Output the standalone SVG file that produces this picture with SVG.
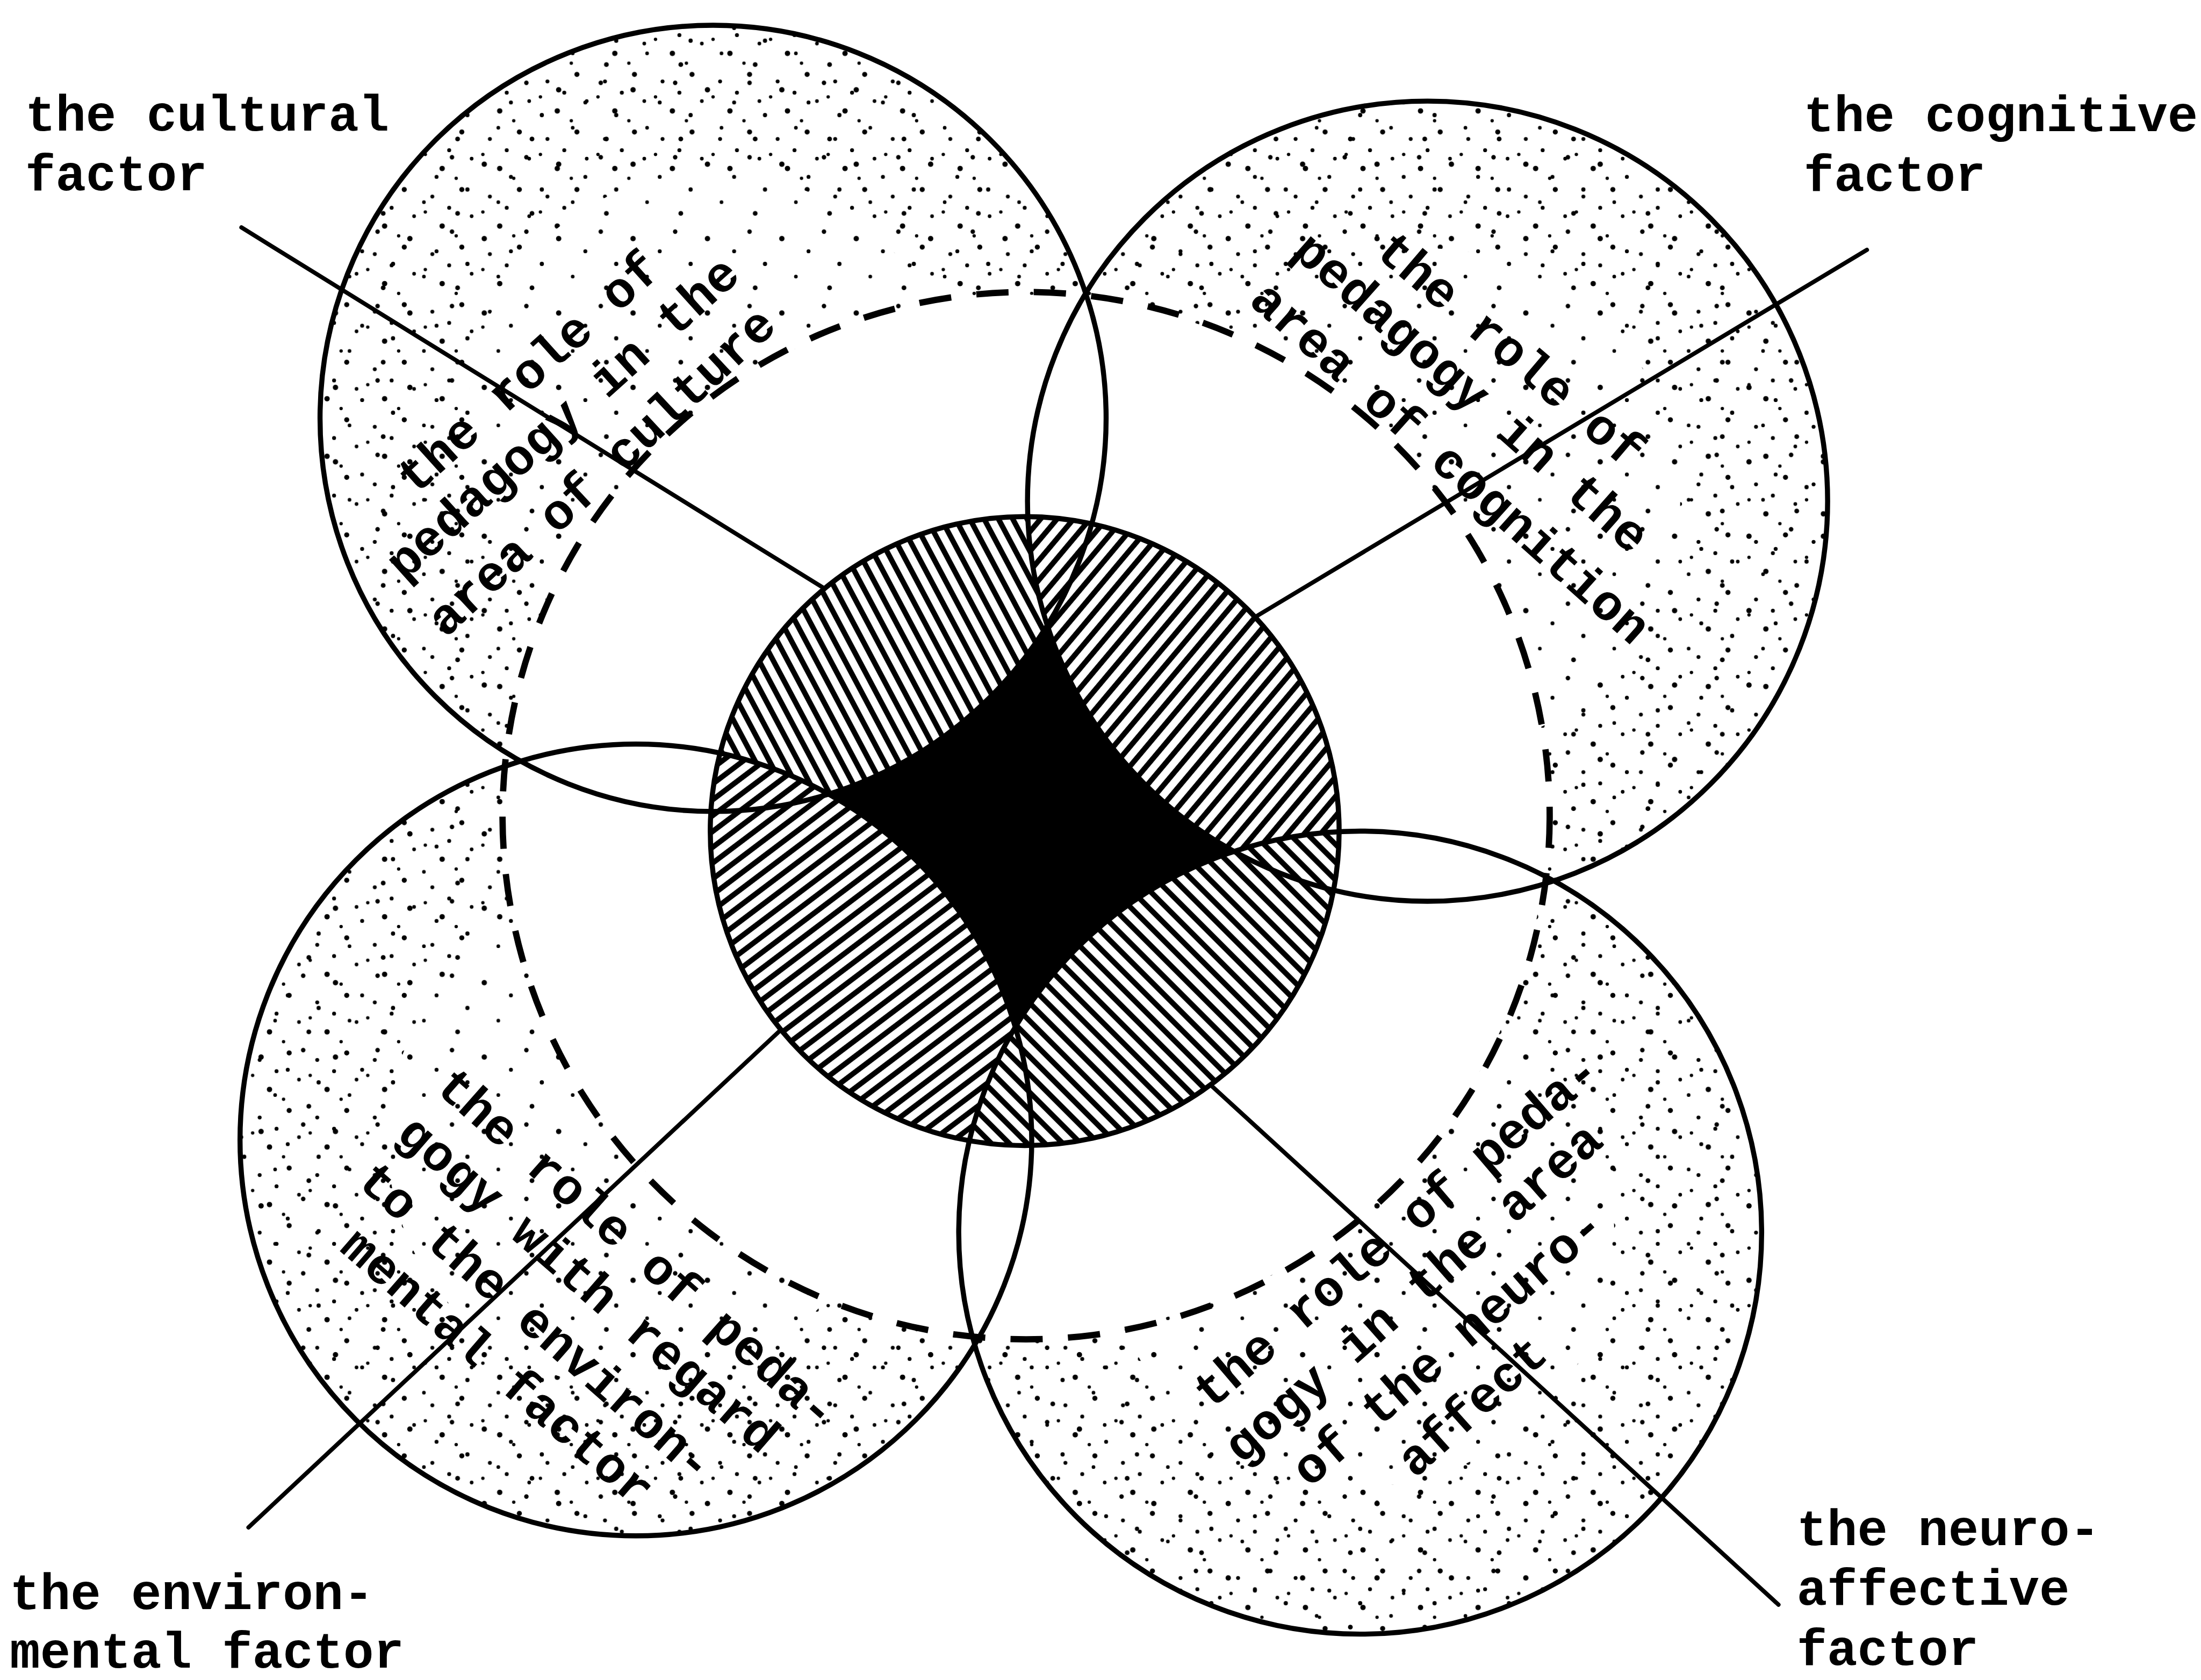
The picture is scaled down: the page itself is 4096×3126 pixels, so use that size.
<svg xmlns="http://www.w3.org/2000/svg" width="4096" height="3126" viewBox="0 0 4096 3126">
<defs>
<style>
.t{font-family:"Liberation Mono","Courier New",monospace;font-weight:bold;font-size:36px;fill:#000}
.c{fill:none;stroke:#000;stroke-width:3.6}
.ln{fill:none;stroke:#000;stroke-width:3;stroke-linecap:round}
.dot circle{fill:#000}
</style>
<pattern id="sa" class="dot" width="53" height="53" patternUnits="userSpaceOnUse">
<circle cx="4" cy="6" r="1.6"/><circle cx="27" cy="11" r="1.9"/><circle cx="46" cy="20" r="1.4"/><circle cx="15" cy="29" r="1.5"/><circle cx="37" cy="38" r="1.3"/><circle cx="8" cy="46" r="1.7"/>
</pattern>
<pattern id="sb" class="dot" x="13" y="7" width="41" height="41" patternUnits="userSpaceOnUse">
<circle cx="8" cy="10" r="1.4"/><circle cx="29" cy="5" r="1.8"/><circle cx="36" cy="24" r="1.3"/><circle cx="15" cy="31" r="1.9"/><circle cx="25" cy="38" r="1.2"/><circle cx="3" cy="21" r="1.2"/><circle cx="20" cy="18" r="1.4"/>
</pattern>
<pattern id="hTL" width="9" height="9" patternUnits="userSpaceOnUse" patternTransform="rotate(62)"><rect width="9" height="9" fill="#fff"/><rect y="2.6" width="9" height="3.8" fill="#000"/></pattern>
<pattern id="hTR" width="9" height="9" patternUnits="userSpaceOnUse" patternTransform="rotate(-50)"><rect width="9" height="9" fill="#fff"/><rect y="2.6" width="9" height="3.8" fill="#000"/></pattern>
<pattern id="hBL" width="9" height="9" patternUnits="userSpaceOnUse" patternTransform="rotate(-37)"><rect width="9" height="9" fill="#fff"/><rect y="2.6" width="9" height="3.8" fill="#000"/></pattern>
<pattern id="hBR" width="9" height="9" patternUnits="userSpaceOnUse" patternTransform="rotate(45)"><rect width="9" height="9" fill="#fff"/><rect y="2.6" width="9" height="3.8" fill="#000"/></pattern>
<mask id="sm" maskUnits="userSpaceOnUse" x="0" y="0" width="1568" height="1197">
<rect width="1568" height="1197" fill="#000"/>
<circle cx="508" cy="298" r="280" fill="#fff"/>
<circle cx="1017" cy="357" r="285" fill="#fff"/>
<circle cx="453" cy="812" r="282" fill="#fff"/>
<circle cx="969" cy="878" r="286" fill="#fff"/>
<circle cx="731" cy="581" r="371" fill="#000"/>
</mask>
<mask id="rim" maskUnits="userSpaceOnUse" x="0" y="0" width="1568" height="1197">
<rect width="1568" height="1197" fill="#000"/>
<circle cx="508" cy="298" r="280" fill="#fff"/>
<circle cx="1017" cy="357" r="285" fill="#fff"/>
<circle cx="453" cy="812" r="282" fill="#fff"/>
<circle cx="969" cy="878" r="286" fill="#fff"/>
<circle cx="508" cy="298" r="175" fill="#000"/>
<circle cx="1017" cy="357" r="180" fill="#000"/>
<circle cx="453" cy="812" r="177" fill="#000"/>
<circle cx="969" cy="878" r="181" fill="#000"/>
<circle cx="731" cy="581" r="371" fill="#000"/>
</mask>
<clipPath id="cc"><circle cx="730" cy="592" r="224"/></clipPath>
</defs>
<rect width="4096" height="3126" fill="#fff"/>
<g transform="scale(2.61224)">
<g id="stipple">
<rect width="1568" height="1197" fill="url(#sa)" mask="url(#sm)"/>
<rect width="1568" height="1197" fill="url(#sb)" mask="url(#rim)"/>
</g>
<g id="dashed-ring">
<circle cx="731" cy="581" r="373" fill="none" stroke="#000" stroke-width="4.5" stroke-dasharray="23 18"/>
</g>
<g id="connectors">
<path class="ln" d="M172,162 L650,458"/>
<path class="ln" d="M1330,178 L850,466"/>
<path class="ln" d="M177,1088 L620,674"/>
<path class="ln" d="M820,734 L1267,1143"/>
</g>
<g id="node-center">
<g clip-path="url(#cc)">
<circle cx="730" cy="592" r="224" fill="#000"/>
<circle cx="508" cy="298" r="280" fill="url(#hTL)"/>
<circle cx="1017" cy="357" r="285" fill="url(#hTR)"/>
<circle cx="453" cy="812" r="282" fill="url(#hBL)"/>
<circle cx="969" cy="878" r="286" fill="url(#hBR)"/>
</g>
<circle class="c" cx="730" cy="592" r="224"/>
</g>
<g id="node-culture">
<circle class="c" cx="508" cy="298" r="280"/>
<text class="t" transform="translate(297.3 338.5) rotate(-42)" x="-11" y="10">the role of</text>
<text class="t" transform="translate(289.5 399.8) rotate(-42)" x="-11" y="10">pedagogy in the</text>
<text class="t" transform="translate(319 440) rotate(-43)" x="-11" y="10">area of culture</text>
</g>
<g id="node-cognition">
<circle class="c" cx="1017" cy="357" r="285"/>
<text class="t" transform="translate(993.1 180.3) rotate(40.5)" x="-11" y="10">the role of</text>
<text class="t" transform="translate(934.2 180.7) rotate(41.5)" x="-11" y="10">pedagogy in the</text>
<text class="t" transform="translate(903.7 215.6) rotate(41.8)" x="-11" y="10">area of cognition</text>
</g>
<g id="node-environment">
<circle class="c" cx="453" cy="812" r="282"/>
<text class="t" transform="translate(323.7 776) rotate(41.5)" x="-11" y="10">the role of peda-</text>
<text class="t" transform="translate(295.9 809.5) rotate(41)" x="-11" y="10">gogy with regard</text>
<text class="t" transform="translate(267.9 842.8) rotate(41.4)" x="-11" y="10">to the environ-</text>
<text class="t" transform="translate(255.9 890) rotate(41)" x="-11" y="10">mental factor</text>
</g>
<g id="node-neuro">
<circle class="c" cx="969" cy="878" r="286"/>
<text class="t" transform="translate(864.3 990) rotate(-40.5)" x="-11" y="10">the role of peda-</text>
<text class="t" transform="translate(886.4 1029.1) rotate(-41.5)" x="-11" y="10">gogy in the area</text>
<text class="t" transform="translate(934.7 1045.4) rotate(-41)" x="-11" y="10">of the neuro-</text>
<text class="t" transform="translate(1009.6 1038.7) rotate(-42)" x="-11" y="10">affect</text>
</g>
<g id="label-cultural">
<text class="t" x="18" y="93">the cultural</text>
<text class="t" x="18" y="135.5">factor</text>
</g>
<g id="label-cognitive">
<text class="t" x="1285" y="93.5">the cognitive</text>
<text class="t" x="1285" y="136">factor</text>
</g>
<g id="label-environmental">
<text class="t" x="7" y="1146">the environ-</text>
<text class="t" x="7" y="1188">mental factor</text>
</g>
<g id="label-neuro">
<text class="t" x="1280" y="1100.5">the neuro-</text>
<text class="t" x="1280" y="1143">affective</text>
<text class="t" x="1280" y="1186">factor</text>
</g>
</g>
</svg>
